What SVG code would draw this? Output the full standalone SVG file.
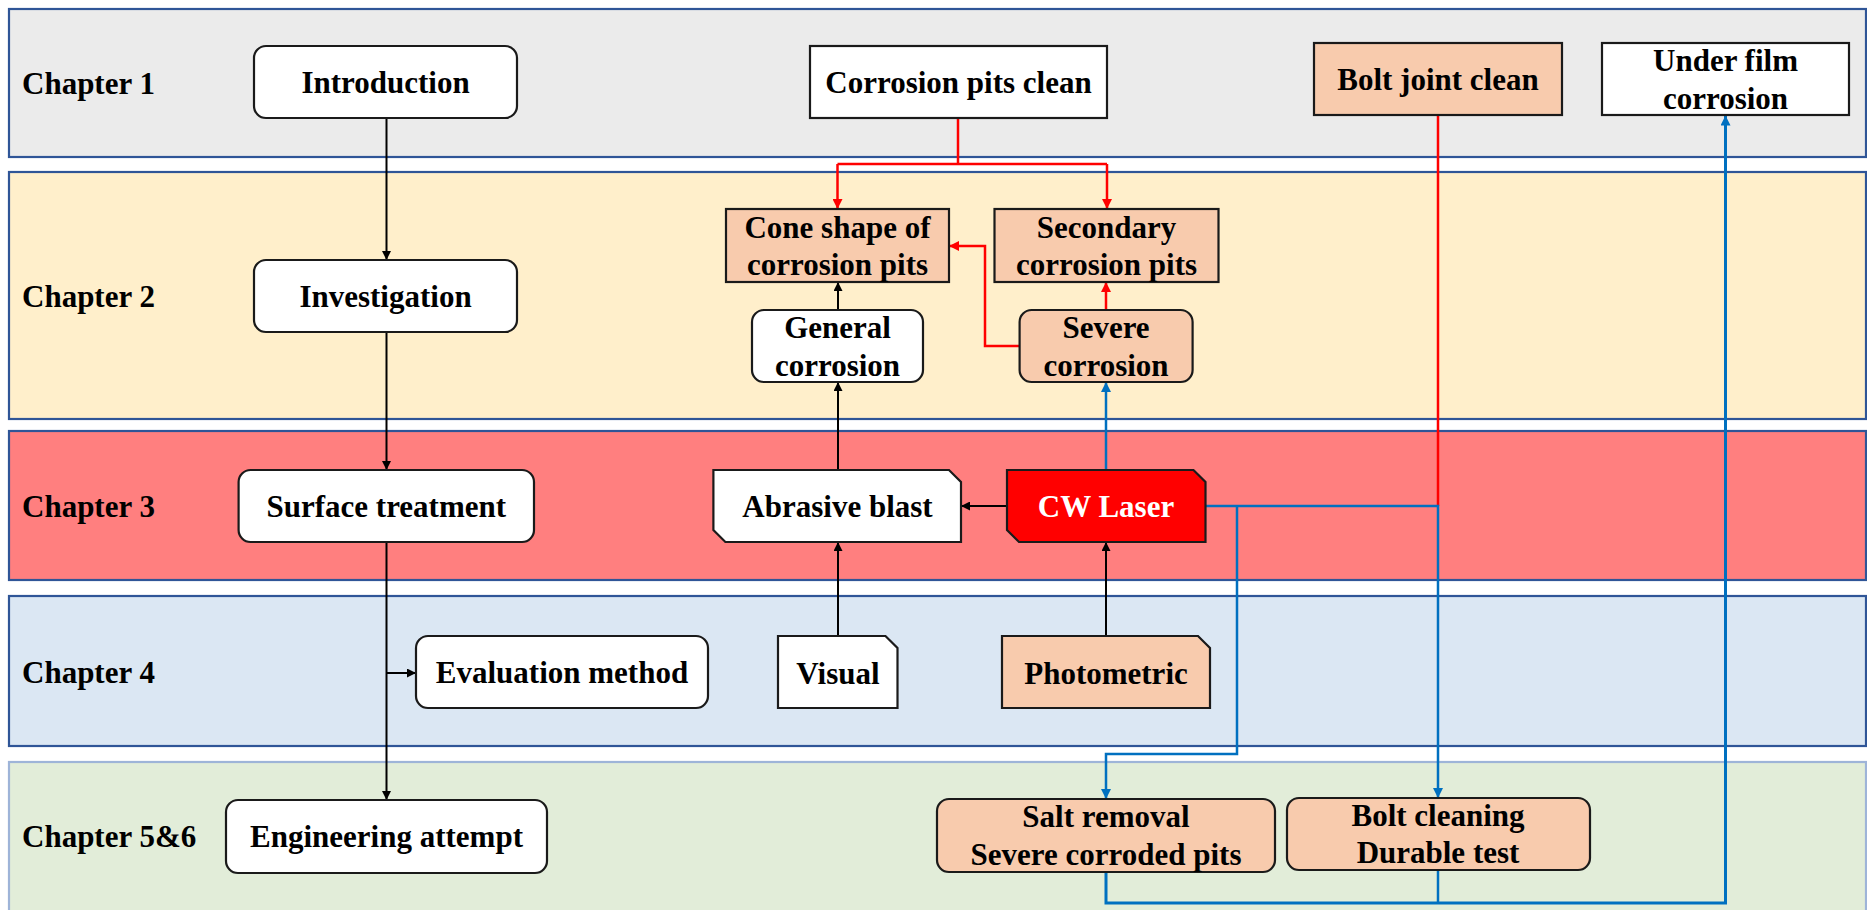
<svg xmlns="http://www.w3.org/2000/svg" width="1867" height="910" viewBox="0 0 1867 910">
<style>
text{font-family:"Liberation Serif","Times New Roman",serif;font-weight:bold;font-size:31px;fill:#000;text-anchor:middle}
.lbl{text-anchor:start}
.band{stroke:#2F5597;stroke-width:2.2}
.nd{fill:#fff;stroke:#1a1a1a;stroke-width:2.2}
.pe{fill:#F8CBAD}
.k{fill:none;stroke:#000;stroke-width:2}
.r{fill:none;stroke:#FF0000;stroke-width:2.5}
.b{fill:none;stroke:#0070C0;stroke-width:2.5}
</style>
<defs>
<marker id="ak" viewBox="0 0 10 10" refX="10" refY="5" markerWidth="10" markerHeight="9" markerUnits="userSpaceOnUse" orient="auto"><path d="M0,0 L10,5 L0,10 z" fill="#000"/></marker>
<marker id="ar" viewBox="0 0 10 10" refX="10" refY="5" markerWidth="11" markerHeight="10" markerUnits="userSpaceOnUse" orient="auto"><path d="M0,0 L10,5 L0,10 z" fill="#FF0000"/></marker>
<marker id="abl" viewBox="0 0 10 10" refX="10" refY="5" markerWidth="11" markerHeight="10" markerUnits="userSpaceOnUse" orient="auto"><path d="M0,0 L10,5 L0,10 z" fill="#0070C0"/></marker>
</defs>
<rect width="1867" height="910" fill="#fff"/>
<g id="bands">
<rect class="band" x="9" y="9" width="1857" height="148" fill="#EBEBEB"/>
<rect class="band" x="9" y="172" width="1857" height="247" fill="#FFEFCB"/>
<rect class="band" x="9" y="431" width="1857" height="149" fill="#FF7F7F"/>
<rect class="band" x="9" y="596" width="1857" height="150" fill="#DBE7F3"/>
<rect class="band" x="9" y="762" width="1857" height="160" fill="#E2EDD9" style="stroke:#9EB4D8"/>
<text class="lbl" x="22" y="94">Chapter 1</text>
<text class="lbl" x="22" y="307">Chapter 2</text>
<text class="lbl" x="22" y="517">Chapter 3</text>
<text class="lbl" x="22" y="683">Chapter 4</text>
<text class="lbl" x="22" y="847">Chapter 5&amp;6</text>
</g>
<g id="connectors">
<path class="k" d="M386.5 118 V260" marker-end="url(#ak)"/>
<path class="k" d="M386.5 332 V470" marker-end="url(#ak)"/>
<path class="k" d="M386.5 542 V800" marker-end="url(#ak)"/>
<path class="k" d="M386.5 673 H416" marker-end="url(#ak)"/>
<path class="k" d="M838 310 V282" marker-end="url(#ak)"/>
<path class="k" d="M838 470 V382" marker-end="url(#ak)"/>
<path class="k" d="M838 636 V542" marker-end="url(#ak)"/>
<path class="k" d="M1007 506 H961" marker-end="url(#ak)"/>
<path class="k" d="M1106 636 V542" marker-end="url(#ak)"/>
<path class="r" d="M958 118 V164"/>
<path class="r" d="M837.5 164 H1107"/>
<path class="r" d="M837.5 164 V209" marker-end="url(#ar)"/>
<path class="r" d="M1107 164 V209" marker-end="url(#ar)"/>
<path class="r" d="M1106 310 V282" marker-end="url(#ar)"/>
<path class="r" d="M1019.6 346 H985 V246 H949" marker-end="url(#ar)"/>
<path class="r" d="M1438 115 V506"/>
<path class="b" d="M1106 470 V382" marker-end="url(#abl)"/>
<path class="b" d="M1205.5 506 H1438 V798" marker-end="url(#abl)"/>
<path class="b" d="M1237 506 V754 H1106 V799" marker-end="url(#abl)"/>
<path class="b" d="M1106 872 V903 H1725.5 V115.5" marker-end="url(#abl)" style="stroke-width:3"/>
<path class="b" d="M1438 870 V902"/>
</g>
<g id="introduction"><rect class="nd" x="254" y="46" width="263" height="72" rx="12"/><text x="385.5" y="93">Introduction</text></g>
<g id="corrosion-pits-clean"><rect class="nd" x="810" y="46" width="297" height="72"/><text x="958.5" y="93">Corrosion pits clean</text></g>
<g id="bolt-joint-clean"><rect class="nd pe" x="1314" y="43" width="248" height="72"/><text x="1438" y="90">Bolt joint clean</text></g>
<g id="under-film-corrosion"><rect class="nd" x="1602" y="43" width="247" height="72"/><text x="1725.5" y="71">Under film</text><text x="1725.5" y="109">corrosion</text></g>
<g id="investigation"><rect class="nd" x="254" y="260" width="263" height="72" rx="12"/><text x="385.5" y="307">Investigation</text></g>
<g id="cone-shape"><rect class="nd pe" x="726" y="209" width="223" height="73"/><text x="837.5" y="238">Cone shape of</text><text x="837.5" y="275">corrosion pits</text></g>
<g id="secondary"><rect class="nd pe" x="994.5" y="209" width="224" height="73"/><text x="1106.5" y="238">Secondary</text><text x="1106.5" y="275">corrosion pits</text></g>
<g id="general-corrosion"><rect class="nd" x="752" y="310" width="171" height="72" rx="12"/><text x="837.5" y="338">General</text><text x="837.5" y="376">corrosion</text></g>
<g id="severe-corrosion"><rect class="nd pe" x="1019.6" y="310" width="173" height="72" rx="12"/><text x="1106" y="338">Severe</text><text x="1106" y="376">corrosion</text></g>
<g id="surface-treatment"><rect class="nd" x="238.6" y="470" width="295.4" height="72" rx="12"/><text x="386.3" y="517">Surface treatment</text></g>
<g id="abrasive-blast"><path class="nd" d="M713.4 470 H949 L961 482 V542 H725.4 L713.4 530 Z"/><text x="837.5" y="517">Abrasive blast</text></g>
<g id="cw-laser"><path class="nd" d="M1007 470 H1193.5 L1205.5 482 V542 H1019 L1007 530 Z" style="fill:#FF0000"/><text x="1106" y="517" style="fill:#fff">CW Laser</text></g>
<g id="evaluation-method"><rect class="nd" x="416" y="636" width="292" height="72" rx="12"/><text x="562" y="683">Evaluation method</text></g>
<g id="visual"><path class="nd" d="M778 636 H885.5 L897.5 648 V708 H778 Z"/><text x="838" y="684">Visual</text></g>
<g id="photometric"><path class="nd pe" d="M1002 636 H1198 L1210 648 V708 H1002 Z"/><text x="1106" y="684">Photometric</text></g>
<g id="engineering-attempt"><rect class="nd" x="226" y="800" width="321" height="73" rx="12"/><text x="386.5" y="847">Engineering attempt</text></g>
<g id="salt-removal"><rect class="nd pe" x="937" y="799" width="338" height="73" rx="12"/><text x="1106" y="827">Salt removal</text><text x="1106" y="865">Severe corroded pits</text></g>
<g id="bolt-cleaning"><rect class="nd pe" x="1287" y="798" width="303" height="72" rx="12"/><text x="1438" y="826">Bolt cleaning</text><text x="1438" y="863">Durable test</text></g>
</svg>
